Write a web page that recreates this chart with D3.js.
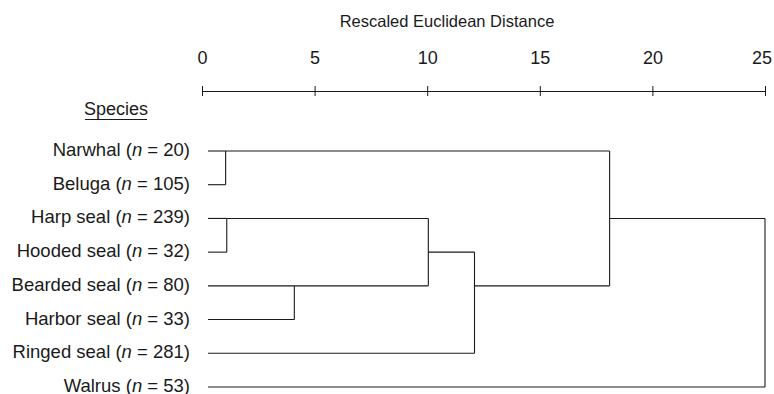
<!DOCTYPE html>
<html><head>
<meta charset="utf-8">
<script src="https://d3js.org/d3.v7.min.js"></script>
<style>
  body { margin: 0; background: #fff; }
  text { font-family: "Liberation Sans", Arial, sans-serif; fill: #1a1a1a; }
  .lbl { font-size: 18.5px; }
  .title { font-size: 16.5px; }
</style>
</head>
<body>
<svg id="chart" width="774" height="394"></svg>
<script>
// species in dendrogram order, with sample sizes
const species = ["Narwhal", "Beluga", "Harp seal", "Hooded seal", "Bearded seal", "Harbor seal", "Ringed seal", "Walrus"];
const sampleSizes = [20, 105, 239, 32, 80, 33, 281, 53];
const tickValues = [0, 5, 10, 15, 20, 25];
// merges: [clusterA, clusterB, distance]; leaves are 0..7, new clusters 8, 9, ...
const merges = [
  [0, 1, 1.05],
  [2, 3, 1.1],
  [4, 5, 4.1],
  [9, 10, 10.05],
  [11, 6, 12.1],
  [8, 12, 18.1],
  [13, 7, 25]
];

const svg = d3.select("#chart");
const x = d3.scaleLinear().domain([0, 25]).range([202, 765]);
const y = d3.scaleLinear().domain([0, species.length - 1]).range([151, 387]);

// title + axis
svg.append("text").attr("class", "title")
   .attr("x", 447).attr("y", 27).attr("text-anchor", "middle")
   .text("Rescaled Euclidean Distance");

const axis = d3.axisTop(x).tickValues(tickValues).tickSize(0).tickPadding(0);
const ag = svg.append("g").attr("transform", "translate(0,91)").call(axis);
ag.attr("font-family", null).attr("font-size", null);
ag.select(".domain").attr("stroke", "#1a1a1a");
ag.selectAll(".tick text").attr("y", -27).attr("dy", 0)
  .style("font-size", "18px").attr("fill", "#1a1a1a")
  .attr("dx", (d, i) => i === tickValues.length - 1 ? -3.5 : 0);
ag.selectAll(".tick line").attr("y1", -5).attr("y2", 5).attr("stroke", "#1a1a1a");

// header
const hdr = svg.append("text").attr("class", "lbl")
   .attr("x", 148).attr("y", 115).attr("text-anchor", "end")
   .style("font-size", "18px")
   .text("Species");
const hb = hdr.node().getBBox();
svg.append("line").attr("x1", hb.x + 1).attr("x2", hb.x + hb.width - 1)
   .attr("y1", 119.5).attr("y2", 119.5)
   .attr("stroke", "#1a1a1a");

// leaf labels
const labels = svg.append("g").selectAll("text").data(species).join("text")
   .attr("class", "lbl").attr("x", 190).attr("y", (d, i) => y(i) + 5)
   .attr("text-anchor", "end");
labels.append("tspan").text((d, i) => d + " (");
labels.append("tspan").attr("font-style", "italic").text("n");
labels.append("tspan").text((d, i) => " = " + sampleSizes[i] + ")");

// dendrogram
const nodes = species.map((d, i) => ({ px: x(0) + 6, row: i }));
const g = svg.append("g").attr("stroke", "#1a1a1a").attr("stroke-width", 1.1).attr("fill", "none");
merges.forEach(([a, b, h]) => {
  const na = nodes[a], nb = nodes[b], mx = x(h);
  [na, nb].forEach(n => {
    g.append("line").attr("x1", n.px).attr("x2", mx)
     .attr("y1", y(n.row)).attr("y2", y(n.row));
  });
  g.append("line").attr("x1", mx).attr("x2", mx)
   .attr("y1", y(na.row)).attr("y2", y(nb.row));
  nodes.push({ px: mx, row: Math.floor((na.row + nb.row) / 2) });
});
</script>
</body>
</html>
